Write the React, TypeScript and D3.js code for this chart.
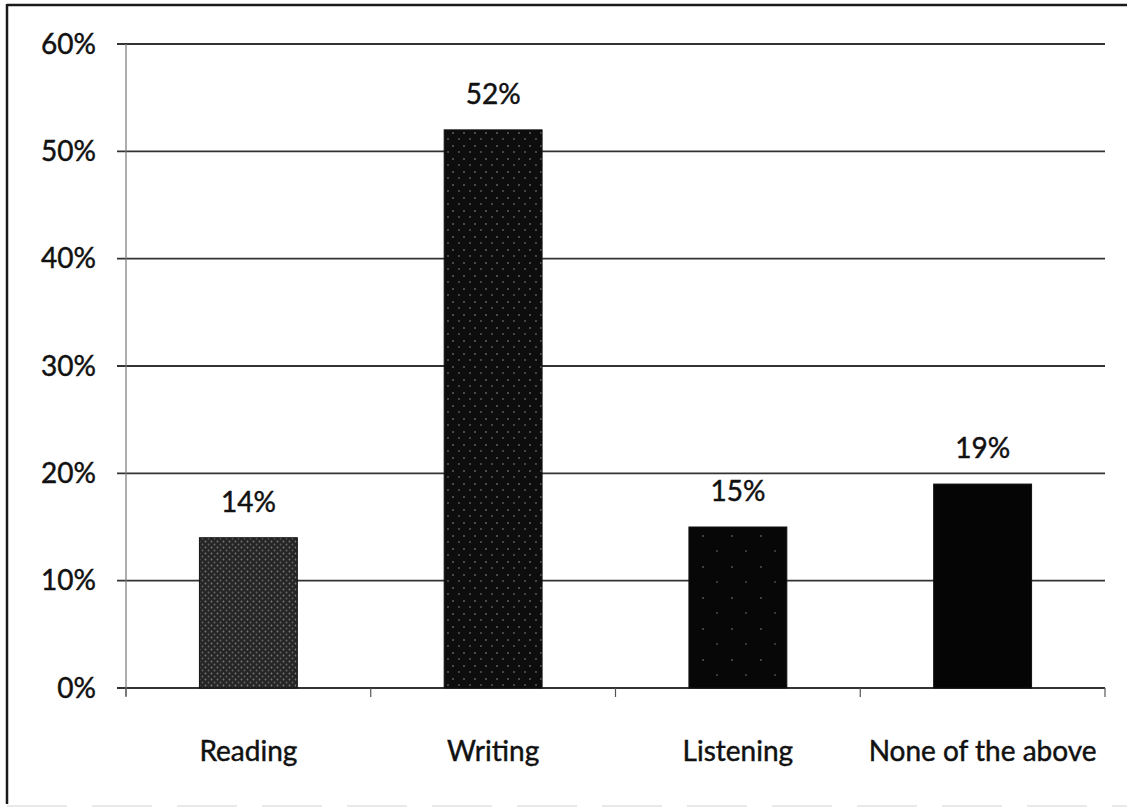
import React from "react";
import * as d3 from "d3";

// Share of respondents per skill
const categories: string[] = ["Reading", "Writing", "Listening", "None of the above"];
const shares: number[] = [0.14, 0.52, 0.15, 0.19];
const valueLabels: string[] = ["14%", "52%", "15%", "19%"];
const yTicks: number[] = [0, 0.1, 0.2, 0.3, 0.4, 0.5, 0.6];
const barFills: string[] = ["url(#tex-grey)", "url(#tex-dots)", "url(#tex-sparse)", "#050505"];

const W = 1127;
const H = 808;
const plot = { left: 126, right: 1105, top: 44, bottom: 688 };
const font = "Lato, 'Open Sans', sans-serif";

const textStyle = {
  fontFamily: font,
  fontSize: 28,
  fill: "#111",
  stroke: "#111",
  strokeWidth: 0.45,
};

export default function App() {
  const x = d3
    .scaleBand<string>()
    .domain(categories)
    .range([plot.left, plot.right])
    .paddingInner(0.6)
    .paddingOuter(0.3);
  const y = d3.scaleLinear().domain([0, 0.6]).range([plot.bottom, plot.top]);
  const fmt = d3.format(".0%");
  const step = x.step();
  const boundaries = d3.range(categories.length + 1).map((i) => plot.left + i * step);

  return (
    <svg
      width={W}
      height={H}
      viewBox={`0 0 ${W} ${H}`}
      style={{ position: "absolute", left: 0, top: 0, background: "#fff" }}
    >
      <defs>
        <pattern id="tex-grey" width="6" height="6" patternUnits="userSpaceOnUse">
          <rect width="6" height="6" fill="#262626" />
          <circle cx="1.5" cy="1.5" r="0.9" fill="#7a7a7a" />
          <circle cx="4.5" cy="4.5" r="0.9" fill="#666" />
        </pattern>
        <pattern id="tex-dots" width="11" height="13" patternUnits="userSpaceOnUse">
          <rect width="11" height="13" fill="#0d0d0d" />
          <circle cx="2" cy="3" r="0.8" fill="#9a9a9a" />
          <circle cx="8" cy="9" r="0.8" fill="#8a8a8a" />
        </pattern>
        <pattern id="tex-sparse" width="29" height="31" patternUnits="userSpaceOnUse">
          <rect width="29" height="31" fill="#070707" />
          <circle cx="7" cy="9" r="0.8" fill="#888" />
          <circle cx="21" cy="24" r="0.8" fill="#777" />
        </pattern>
      </defs>

      {/* outer frame */}
      <line x1={7} y1={5} x2={W} y2={5} stroke="#1a1a1a" strokeWidth={2.5} />
      <line x1={7} y1={4} x2={7} y2={804} stroke="#1a1a1a" strokeWidth={2.5} />
      <line x1={7} y1={806} x2={W} y2={806} stroke="#d4d4d4" strokeWidth={1.2} strokeDasharray="60 25" />

      {/* horizontal gridlines and y labels */}
      {yTicks.map((t) => (
        <g key={t}>
          <line
            x1={plot.left - 9}
            x2={plot.right}
            y1={y(t)}
            y2={y(t)}
            stroke="#333"
            strokeWidth={1.8}
          />
          <text x={96} y={y(t)} dy="0.35em" textAnchor="end" {...textStyle}>
            {fmt(t)}
          </text>
        </g>
      ))}

      {/* y axis */}
      <line x1={plot.left} x2={plot.left} y1={plot.top} y2={plot.bottom + 8} stroke="#777" strokeWidth={1.2} />

      {/* category tick marks */}
      {boundaries.map((b, i) => (
        <line key={i} x1={b} x2={b} y1={plot.bottom} y2={plot.bottom + 9} stroke="#555" strokeWidth={1.2} />
      ))}

      {/* bars */}
      {categories.map((c, i) => (
        <rect
          key={c}
          x={x(c)}
          y={y(shares[i])}
          width={x.bandwidth()}
          height={y(0) - y(shares[i])}
          fill={barFills[i]}
          stroke="#111"
          strokeWidth={1}
        />
      ))}

      {/* value labels */}
      {categories.map((c, i) => (
        <text
          key={c}
          x={(x(c) ?? 0) + x.bandwidth() / 2}
          y={y(shares[i]) - 26}
          textAnchor="middle"
          {...textStyle}
        >
          {valueLabels[i]}
        </text>
      ))}

      {/* category labels */}
      {categories.map((c) => (
        <text
          key={c}
          x={(x(c) ?? 0) + x.bandwidth() / 2}
          y={761}
          textAnchor="middle"
          {...textStyle}
        >
          {c}
        </text>
      ))}
    </svg>
  );
}
